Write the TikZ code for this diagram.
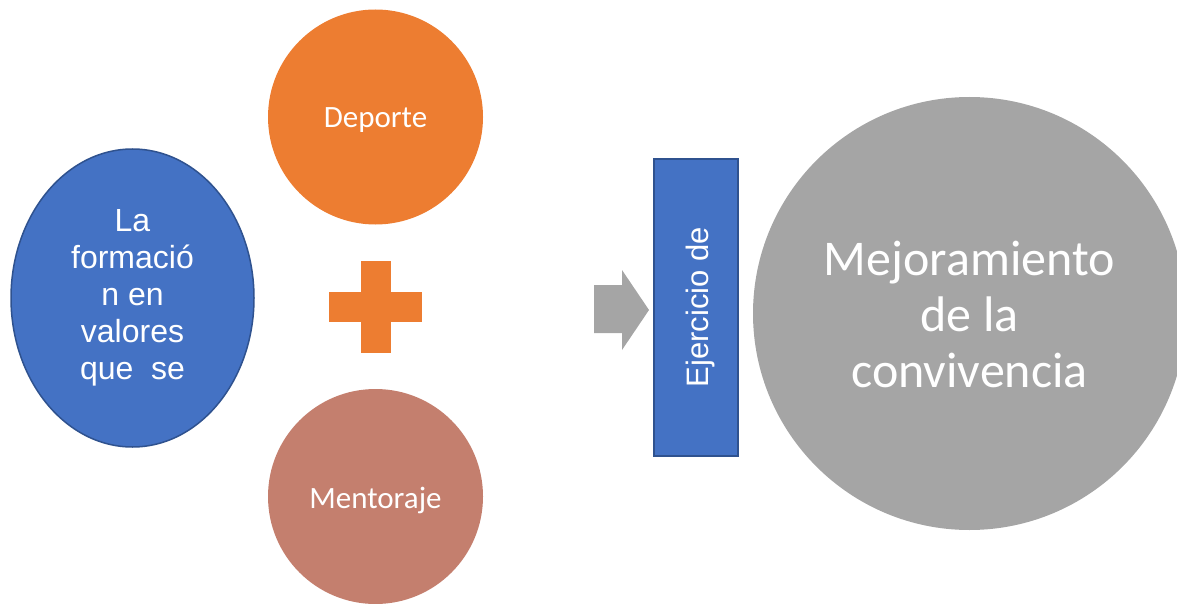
\documentclass[tikz,border=0pt]{standalone}
\usepackage{fontspec}
\setmainfont{Liberation Sans}
\newfontfamily\carl{Carlito}
\usetikzlibrary{shapes.geometric}
\definecolor{cblue}{HTML}{4472C4}
\definecolor{cblueb}{HTML}{2F528F}
\definecolor{corange}{HTML}{ED7D31}
\definecolor{cment}{HTML}{C47F6E}
\definecolor{cgray}{HTML}{A5A5A5}
\tikzset{
  bubble/.style={circle, minimum size=215pt, inner sep=0pt, fill=#1},
  bubbletxt/.style={text=white, inner sep=0pt, font=\carl\fontsize{31}{37}\selectfont},
}
\begin{document}
\begin{tikzpicture}[x=1pt,y=-1pt]
\useasboundingbox (0,0) rectangle (1177,604);
% left ellipse
\node (forma) [ellipse, draw=cblueb, line width=1.5pt, fill=cblue, minimum width=243pt, minimum height=298pt, inner sep=0pt] at (132.5,298) {};
\node (formatxt) [text=white, align=center, inner sep=0pt, font=\fontsize{32}{37}\selectfont] at (132.5,298) {La\\formació\\n en\\valores\\que\ \ se};
% circles
\node (deporte) [bubble=corange] at (375.5,117) {};
\node (deportetxt) [bubbletxt, anchor=base] at (375.5,128) {Deporte};
\node (mentor) [bubble=cment] at (375.5,496.5) {};
\node (mentortxt) [bubbletxt, anchor=base] at (375.5,508) {Mentoraje};
% plus
\fill[corange] (361,261) rectangle (391,353);
\fill[corange] (329,292) rectangle (422,322);
% arrow
\fill[cgray] (594,285) -- (622,285) -- (622,270) -- (649,310) -- (622,350) -- (622,333) -- (594,333) -- cycle;
% rectangle
\node (ejer) [draw=cblueb, line width=2pt, fill=cblue, minimum width=84pt, minimum height=297pt, inner sep=0pt, anchor=north west] at (653,158) {};
\node (ejertxt) [rotate=90, text=white, font=\fontsize{31}{36}\selectfont, inner sep=0pt] at (700,307) {Ejercicio de};
% gray circle
\node (mejora) [circle, fill=cgray, minimum size=433pt, inner sep=0pt] at (969.5,313.5) {};
\node (mejoratxt) [text=white, align=center, inner sep=0pt, font=\carl\fontsize{50}{56}\selectfont] at (969.5,314) {Mejoramiento\\de la\\convivencia};
\end{tikzpicture}
\end{document}
